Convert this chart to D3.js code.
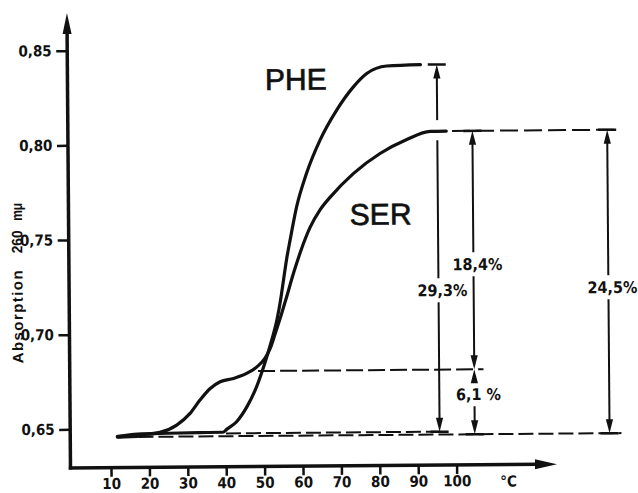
<!DOCTYPE html>
<html><head><meta charset="utf-8">
<script src="https://cdn.jsdelivr.net/npm/d3@7"></script>
<style>
html,body{margin:0;padding:0;background:#fff;}
svg{display:block;}
.num{font-family:"Liberation Sans Narrow","DejaVu Sans Condensed","Arial Narrow",sans-serif;font-weight:bold;fill:#111;}
.ttl{font-family:"Liberation Sans","Arial",sans-serif;font-weight:bold;fill:#111;}
.big{font-family:"Liberation Sans","Arial",sans-serif;font-weight:normal;fill:#111;stroke:#111;stroke-width:0.7px;}
</style></head><body>
<svg id="c" width="638" height="493"></svg>
<script>
// ---- data ----
const temperatures = [10,20,30,40,50,60,70,80,90,100];
const absorptionTicks = [0.65,0.70,0.75,0.80,0.85];

const pheTemp = [12,17,25,33,39.2,40.2,42.8,45.5,47.7,49.5,50.8,52.1,53.5,54.5,55.3,56.2,57.1,58.85,61.5,65.1,69.5,73.9,77.4,82.6,91.4];
const pheAbs  = [0.6460,0.6472,0.6475,0.6477,0.6478,0.6493,0.6533,0.6611,0.6699,0.6795,0.6875,0.6962,0.7068,0.7174,0.7279,0.7395,0.7490,0.7664,0.7841,0.8017,0.8175,0.8297,0.8367,0.8406,0.8412];

const serTemp = [12,17.6,22.8,27.2,30.7,33.3,36.0,38.6,42.1,45.5,48.2,50.3,51.7,53.0,54.4,56.0,58.0,60.0,62.3,65.0,67.7,73.7,80.7,87.7,93.8,98.0];
const serAbs  = [0.6458,0.6467,0.6480,0.6518,0.6579,0.6649,0.6710,0.6745,0.6762,0.6788,0.6822,0.6866,0.6919,0.6995,0.7080,0.7185,0.7320,0.7440,0.7555,0.7650,0.7717,0.7839,0.7944,0.8017,0.8059,0.8060];

const seriesNames = ["PHE","SER"];
const seriesLabelTemp = [50.9,72.7];
const seriesLabelAbs = [0.8284,0.7568];

// dashed guide levels
const guideAbs  = [0.6472,0.680,0.806,0.6457];
const guideFrom = [40,48.5,99.5,12];
const guideTo   = [97.5,107.2,142.3,143];

// dimension arrows
const arrowLabels  = ["29,3%","18,4%","6,1 %","24,5%"];
const arrowTemp    = [95.65,104.8,104.8,139.9];
const arrowTop     = [0.8412,0.806,0.680,0.806];
const arrowBottom  = [0.6472,0.680,0.6457,0.6457];
const arrowLabelAbs= [0.7219,0.7355,0.6668,0.7228];
const arrowTopBar  = [true,true,false,true];
const arrowBotBar  = [true,false,true,true];
const arrowBreakHi = [0.8118,null,null,null];
const arrowBreakLo = [0.8012,null,null,null];

// ---- drawing ----
const svg = d3.select("#c");
const g = svg.append("g").attr("transform","rotate(-0.45,70.5,468)");

const x = d3.scaleLinear().domain([10,100]).range([111,456.6]);
const y = d3.scaleLinear().domain([0.65,0.85]).range([429.3,50.7]);
const X0 = 70.5, Y0 = 468;

// axes
const xa = d3.axisBottom(x).tickValues(temperatures).tickSize(9).tickPadding(1.5).tickFormat(d3.format("d"));
const xg = g.append("g").attr("transform",`translate(0,${Y0})`).call(xa);
const ya = d3.axisLeft(y).tickValues(absorptionTicks).tickSize(11).tickPadding(4.5).tickFormat(d=>d.toFixed(2).replace(".",","));
const yg = g.append("g").attr("transform",`translate(${X0},0)`).call(ya);
[xg,yg].forEach(s=>{
  s.select(".domain").remove();
  s.selectAll(".tick line").attr("stroke","#111").attr("stroke-width",2.5);
  s.selectAll(".tick text").attr("class","num").style("font-size","15px");
});
xg.selectAll(".tick text").attr("dy","0.72em");

// axis lines with arrows
g.append("line").attr("x1",X0).attr("y1",Y0+1.5).attr("x2",X0).attr("y2",30)
  .attr("stroke","#111").attr("stroke-width",3.5);
g.append("path").attr("d",`M${X0},13 L${X0-4.5},34 L${X0+4.5},34 Z`).attr("fill","#111");
g.append("line").attr("x1",X0-1.75).attr("y1",Y0).attr("x2",540).attr("y2",Y0)
  .attr("stroke","#111").attr("stroke-width",3.5);
g.append("path").attr("d",`M557,${Y0} L535,${Y0-5} L535,${Y0+5} Z`).attr("fill","#111");
g.append("text").attr("class","num").style("font-size","15px")
  .attr("x",508.5).attr("y",490).attr("text-anchor","middle").text("°C");

// y title
[["Absorption",316.5,93,"spacing"],["260",241.5,23,"spacingAndGlyphs"],["mμ",211.5,18,"spacingAndGlyphs"]].forEach(([t,cy,len,adj])=>{
  g.append("text").attr("class","ttl").style("font-size","15px")
   .attr("transform",`translate(24,${cy}) rotate(-90)`).attr("text-anchor","middle")
   .attr("textLength",len).attr("lengthAdjust",adj).text(t);
});

// guides
const dashes = ["15,5","17,5","18,6","15,5"];
guideAbs.forEach((v,i)=>{
  g.append("line").attr("x1",x(guideFrom[i])).attr("x2",x(guideTo[i]))
   .attr("y1",y(v)).attr("y2",y(v))
   .attr("stroke","#111").attr("stroke-width",2).attr("stroke-dasharray",dashes[i]);
});

// curves
const line = d3.line().x(d=>x(d[0])).y(d=>y(d[1])).curve(d3.curveMonotoneX);
const phe = pheTemp.map((t,i)=>[t,pheAbs[i]]);
const ser = serTemp.map((t,i)=>[t,serAbs[i]]);
[phe,ser].forEach(d=>{
  g.append("path").attr("d",line(d)).attr("fill","none").attr("stroke","#111")
   .attr("stroke-width",3.2).attr("stroke-linecap","round").attr("stroke-linejoin","round");
});
// thick start blob
g.append("line").attr("x1",x(11.8)).attr("x2",x(17)).attr("y1",y(0.6459)).attr("y2",y(0.6462))
  .attr("stroke","#111").attr("stroke-width",4).attr("stroke-linecap","round");

// series labels
seriesNames.forEach((n,i)=>{
  g.append("text").attr("class","big").style("font-size","30px")
   .attr("x",x(seriesLabelTemp[i])).attr("y",y(seriesLabelAbs[i])).text(n);
});

// arrows
const HL = 14, HW = 3.6, BAR = 9, GAP = 12;
arrowLabels.forEach((lab,i)=>{
  const ax = x(arrowTemp[i]), yt = y(arrowTop[i]), yb = y(arrowBottom[i]), yl = y(arrowLabelAbs[i]);
  let cuts = [[yl-GAP,yl+GAP]];
  if(arrowBreakHi[i]!==null) cuts.push([y(arrowBreakHi[i]),y(arrowBreakLo[i])]);
  cuts.sort((a,b)=>a[0]-b[0]);
  let start = yt+HL-1;
  const segs=[];
  cuts.forEach(c=>{ if(c[0]>start){segs.push([start,c[0]]);} start=Math.max(start,c[1]); });
  if(yb-HL+1>start) segs.push([start,yb-HL+1]);
  segs.forEach(s=>{
    g.append("line").attr("x1",ax).attr("x2",ax).attr("y1",s[0]).attr("y2",s[1])
     .attr("stroke","#111").attr("stroke-width",2);
  });
  g.append("path").attr("d",`M${ax},${yt} L${ax-HW},${yt+HL} L${ax+HW},${yt+HL} Z`).attr("fill","#111");
  g.append("path").attr("d",`M${ax},${yb} L${ax-HW},${yb-HL} L${ax+HW},${yb-HL} Z`).attr("fill","#111");
  if(arrowTopBar[i]) g.append("line").attr("x1",ax-BAR).attr("x2",ax+BAR).attr("y1",yt).attr("y2",yt)
     .attr("stroke","#111").attr("stroke-width",2.5);
  if(arrowBotBar[i]) g.append("line").attr("x1",ax-BAR).attr("x2",ax+BAR).attr("y1",yb).attr("y2",yb)
     .attr("stroke","#111").attr("stroke-width",2.5);
  g.append("text").attr("class","num").style("font-size","16px")
   .attr("x",ax+4).attr("y",yl).attr("dy","0.36em").attr("text-anchor","middle").text(lab);
});
</script>
</body></html>
